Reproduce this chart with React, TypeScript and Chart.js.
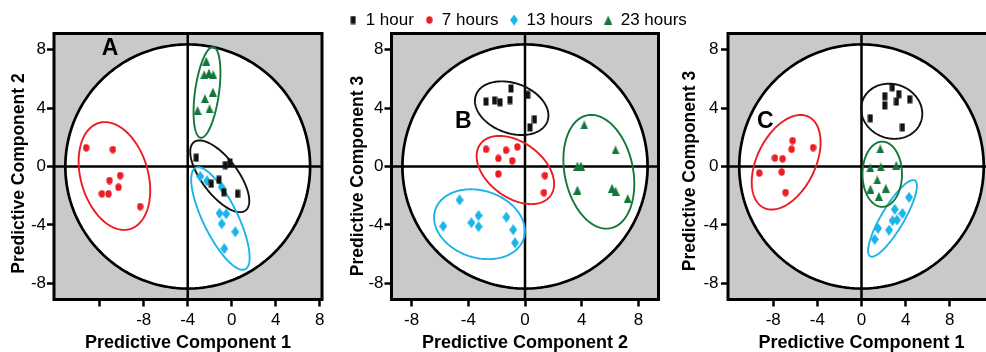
import React, { useEffect, useRef } from "react";
import { Chart, registerables } from "chart.js";
Chart.register(...registerables);

const FONT = "'Liberation Sans', Arial, Helvetica, sans-serif";

// ---------- series ----------
const seriesLabels = ["1 hour", "7 hours", "13 hours", "23 hours"];
const seriesColors = ["#111111", "#ed1c24", "#1ab4ea", "#14773a"];

type Pt = [number, number];

// Panel A  (Predictive Component 1 vs 2)
const a1h: Pt[] = [[-3.23, 0.6], [-0.59, 0.09], [-0.16, 0.27], [-1.16, -0.91], [-1.86, -1.18], [-0.71, -1.76], [0.53, -1.87]];
const a7h: Pt[] = [[-13.23, 1.28], [-10.8, 1.16], [-10.14, -0.62], [-11.11, -0.96], [-10.29, -1.42], [-11.8, -1.87], [-11.2, -1.87], [-8.32, -2.74]];
const a13h: Pt[] = [[-2.86, -0.68], [-2.25, -0.98], [-0.91, -1.42], [-1.11, -3.2], [-0.5, -3.24], [-0.91, -3.92], [0.32, -4.47], [-0.68, -5.62]];
const a23h: Pt[] = [[-2.32, 7.21], [-2.5, 6.28], [-2.07, 6.39], [-1.68, 6.28], [-1.71, 5.09], [-2.44, 4.64], [-3.11, 3.84], [-2.02, 3.95]];
// ellipses: [cx, cy, ux, uy, vx, vy] (centre + two conjugate semi-axes, data units)
const aEllipses: number[][] = [
  [-1.09, -0.67, 2.34, -2.34, 1.31, 0.74],
  [-10.66, -0.65, 1.41, -3.63, 2.93, 0.65],
  [-1.03, -3.56, 2.25, -3.47, 1.41, 0.52],
  [-2.25, 5.07, 0.57, 3.1, 1.08, -0.11],
];

// Panel B  (Predictive Component 2 vs 3)
const b1h: Pt[] = [[-2.75, 4.44], [-2.15, 4.52], [-1.76, 4.4], [-1.06, 4.55], [-0.99, 5.34], [0.19, 4.9], [0.67, 3.23], [0.35, 2.68]];
const b7h: Pt[] = [[-2.75, 1.18], [-1.88, 0.55], [-1.34, 1.11], [-0.54, 1.34], [-0.9, 0.39], [-1.88, -0.51], [1.41, -0.62], [1.34, -1.79]];
const b13h: Pt[] = [[-4.62, -2.29], [-5.77, -4.08], [-3.78, -3.85], [-3.28, -3.36], [-3.28, -4.11], [-1.31, -3.46], [-0.83, -4.33], [-0.71, -5.22]];
const b23h: Pt[] = [[4.18, 2.84], [6.39, 1.13], [3.7, 0.03], [3.95, 0.03], [3.7, -1.61], [6.14, -1.49], [6.39, -1.68], [7.25, -2.19]];
const bEllipses: number[][] = [
  [-0.94, 3.99, 2.52, -0.9, 0.61, 1.6],
  [-0.68, -0.24, 2.48, -1.76, 1.15, 1.53],
  [-3.21, -3.95, 3.12, -0.98, 0.73, 2.18],
  [5.21, -0.36, 0.83, -3.86, 2.36, 0.48],
];

// Panel C  (Predictive Component 1 vs 3)
const c1h: Pt[] = [[2.79, 5.42], [2.11, 4.81], [3.38, 4.95], [2.11, 4.18], [3.17, 4.44], [4.37, 4.6], [0.8, 3.3], [3.71, 2.68]];
const c7h: Pt[] = [[-6.24, 1.77], [-4.38, 1.29], [-6.33, 1.18], [-7.85, 0.58], [-7.15, 0.53], [-9.27, -0.45], [-7.23, -0.38], [-6.88, -1.78]];
const c13h: Pt[] = [[4.31, -2.11], [3.71, -3.21], [3.01, -2.93], [3.22, -3.66], [2.81, -3.71], [2.5, -4.35], [1.5, -4.23], [1.2, -4.99]];
const c23h: Pt[] = [[1.7, 1.21], [0.8, -0.09], [1.75, -0.03], [3.15, 0.08], [1.43, -0.92], [0.81, -1.54], [2.2, -1.49], [1.57, -2.04]];
const cEllipses: number[][] = [
  [2.74, 3.78, 2.64, -0.73, 0.84, 1.74],
  [-6.83, 0.29, 2.04, 3.11, 2.36, -0.89],
  [2.81, -3.55, 2.03, 2.59, 0.88, -0.4],
  [1.88, -0.53, 0, 2.23, 1.79, 0],
];

// ---------- axes ----------
const yTicks = [-8, -4, 0, 4, 8];
const yTickLabels = ["-8", "-4", "0", "4", "8"];
const xTicksA = [-12, -8, -4, 0, 4, 8];
const xTickLabelsA = ["", "-8", "-4", "0", "4", "8"];
const xTicksBC = [-8, -4, 0, 4, 8];
const xTickLabelsBC = ["-8", "-4", "0", "4", "8"];
const yRange = [-9.1, 9.1];
const xRangeA = [-16.15, 8.2];
const xRangeB = [-9.42, 9.42];
const xRangeC = [-12.1, 12.1];

// Hotelling circle: centre and radii (data units)
const circleA = [-4, 0, 11.12, 8.35];
const circleB = [0, 0, 8.65, 8.35];
const circleC = [0, 0, 11.08, 8.35];

const titleX = ["Predictive Component 1", "Predictive Component 2", "Predictive Component 1"];
const titleY = ["Predictive Component 2", "Predictive Component 3", "Predictive Component 3"];
const panelLetters = ["A", "B", "C"];
const letterPos: Pt[] = [[-11.05, 8.08], [-4.35, 3.07], [-8.71, 3.07]];

function makeMarker(kind: number): HTMLCanvasElement {
  const c = document.createElement("canvas");
  const sizes = [[6, 9], [7, 8], [8, 11], [8, 9]];
  const [w, h] = sizes[kind];
  c.width = w;
  c.height = h;
  const g = c.getContext("2d")!;
  g.fillStyle = seriesColors[kind];
  g.beginPath();
  if (kind === 0) g.rect(0.5, 0.5, w - 1, h - 1);
  else if (kind === 1) g.ellipse(w / 2, h / 2, w / 2 - 0.3, h / 2 - 0.3, 0, 0, Math.PI * 2);
  else if (kind === 2) {
    g.moveTo(w / 2, 0); g.lineTo(w, h / 2); g.lineTo(w / 2, h); g.lineTo(0, h / 2); g.closePath();
  } else {
    g.moveTo(w / 2, 0); g.lineTo(w, h); g.lineTo(0, h); g.closePath();
  }
  g.fill();
  return c;
}

type PanelCfg = {
  idx: number;
  series: Pt[][];
  ellipses: number[][];
  circle: number[];
  xTicks: number[];
  xLabels: string[];
  xRange: number[];
  left: number;
  width: number;
  yAxisWidth: number;
  rightAxisWidth: number;
  yTickPad: number;
  padTop: number;
  yTitleX: number;
  yTitleDy: number;
  legend: boolean;
};

function makeDecor(cfg: PanelCfg) {
  return {
    id: "panelDecor" + cfg.idx,
    beforeDatasetsDraw(chart: any) {
      const { ctx, chartArea: a, scales } = chart;
      const px = (v: number) => scales.x.getPixelForValue(v);
      const py = (v: number) => scales.y.getPixelForValue(v);
      const path = (e: number[]) => {
        const [cx, cy, ux, uy, vx, vy] = e;
        ctx.beginPath();
        for (let i = 0; i <= 200; i++) {
          const t = (i / 200) * Math.PI * 2;
          const X = px(cx + ux * Math.cos(t) + vx * Math.sin(t));
          const Y = py(cy + uy * Math.cos(t) + vy * Math.sin(t));
          if (i === 0) ctx.moveTo(X, Y); else ctx.lineTo(X, Y);
        }
        ctx.closePath();
      };
      ctx.save();
      ctx.fillStyle = "#c9c9c9";
      ctx.fillRect(a.left, a.top, a.right - a.left, a.bottom - a.top);
      const [ccx, ccy, rx, ry] = cfg.circle;
      path([ccx, ccy, rx, 0, 0, ry]);
      ctx.fillStyle = "#ffffff";
      ctx.fill();
      ctx.strokeStyle = "#000";
      ctx.lineWidth = 2.7;
      ctx.stroke();
      ctx.beginPath();
      ctx.moveTo(px(ccx), a.top);
      ctx.lineTo(px(ccx), a.bottom);
      ctx.moveTo(a.left, py(ccy));
      ctx.lineTo(a.right, py(ccy));
      ctx.lineWidth = 2.5;
      ctx.stroke();
      cfg.ellipses.forEach((e, i) => {
        path(e);
        ctx.strokeStyle = seriesColors[i];
        ctx.lineWidth = 1.9;
        ctx.stroke();
      });
      const [lx, ly] = letterPos[cfg.idx];
      ctx.fillStyle = "#000";
      ctx.font = `bold 23px ${FONT}`;
      ctx.textAlign = "center";
      ctx.textBaseline = "middle";
      ctx.fillText(panelLetters[cfg.idx], px(lx), py(ly));
      ctx.restore();
    },
    afterDatasetsDraw(chart: any) {
      const { ctx, chartArea: a } = chart;
      ctx.save();
      ctx.strokeStyle = "#000";
      ctx.lineWidth = 3;
      ctx.strokeRect(a.left, a.top, a.right - a.left, a.bottom - a.top);
      // vertical axis title
      ctx.translate(cfg.yTitleX, (a.top + a.bottom) / 2 + cfg.yTitleDy);
      ctx.rotate(-Math.PI / 2);
      ctx.fillStyle = "#000";
      ctx.font = `bold 17.5px ${FONT}`;
      ctx.textAlign = "center";
      ctx.textBaseline = "middle";
      ctx.fillText(titleY[cfg.idx], 0, 0);
      ctx.restore();
    },
  };
}

function Panel({ cfg }: { cfg: PanelCfg }) {
  const ref = useRef<HTMLCanvasElement | null>(null);
  useEffect(() => {
    if (!ref.current) return;
    const markers = [0, 1, 2, 3].map(makeMarker);
    const chart = new Chart(ref.current, {
      type: "scatter",
      data: {
        datasets: cfg.series.map((pts, i) => ({
          label: seriesLabels[i],
          data: pts.map(([x, y]) => ({ x, y })),
          pointStyle: markers[i] as any,
          pointRadius: 5,
          backgroundColor: seriesColors[i],
          borderColor: seriesColors[i],
          showLine: false,
        })),
      },
      options: {
        responsive: false,
        animation: false,
        devicePixelRatio: 1,
        events: [],
        layout: { padding: { left: 0, top: cfg.padTop, right: 0, bottom: 0 } },
        plugins: {
          tooltip: { enabled: false },
          legend: {
            display: cfg.legend,
            position: "top",
            maxHeight: 33.5,
            labels: {
              usePointStyle: true,
              boxWidth: 8,
              color: "#000",
              font: { size: 17, family: FONT },
              padding: 11.5,
            },
          },
        },
        scales: {
          x: {
            type: "linear",
            min: cfg.xRange[0],
            max: cfg.xRange[1],
            bounds: "data",
            afterBuildTicks: (s: any) => { s.ticks = cfg.xTicks.map((v) => ({ value: v })); },
            afterFit: (s: any) => { s.height = 52.5; },
            grid: { drawOnChartArea: false, drawTicks: true, tickLength: 7, tickColor: "#000", tickWidth: 2.5, color: "#000" },
            border: { display: false },
            ticks: {
              color: "#000",
              font: { size: 17, family: FONT },
              padding: 4,
              maxRotation: 0,
              autoSkip: false,
              callback: (v: any) => cfg.xLabels[cfg.xTicks.indexOf(Number(v))] ?? "",
            },
            title: {
              display: true,
              text: titleX[cfg.idx],
              color: "#000",
              font: { size: 18, weight: "bold", family: FONT, lineHeight: 1 },
              padding: { top: 0, bottom: 0 },
            },
          },
          y: {
            type: "linear",
            position: "left",
            min: yRange[0],
            max: yRange[1],
            bounds: "data",
            afterBuildTicks: (s: any) => { s.ticks = yTicks.map((v) => ({ value: v })); },
            afterFit: (s: any) => { s.width = cfg.yAxisWidth; },
            grid: { drawOnChartArea: false, drawTicks: true, tickLength: 7, tickColor: "#000", tickWidth: 2.5, color: "#000" },
            border: { display: false },
            ticks: {
              color: "#000",
              font: { size: 17, family: FONT },
              padding: cfg.yTickPad,
              autoSkip: false,
              callback: (v: any) => yTickLabels[yTicks.indexOf(Number(v))] ?? "",
            },
            title: { display: false },
          },
          yRight: {
            type: "linear",
            position: "right",
            min: 0,
            max: 1,
            afterFit: (s: any) => { s.width = cfg.rightAxisWidth; },
            grid: { display: false, drawTicks: false },
            border: { display: false },
            ticks: { display: false },
          },
        },
      } as any,
      plugins: [makeDecor(cfg)],
    });
    return () => chart.destroy();
  }, [cfg]);
  return (
    <canvas
      ref={ref}
      width={cfg.width}
      height={352}
      style={{ position: "absolute", left: cfg.left, top: 0, width: cfg.width, height: 352 }}
    />
  );
}

const panels: PanelCfg[] = [
  { idx: 0, series: [a1h, a7h, a13h, a23h], ellipses: aEllipses, circle: circleA, xTicks: xTicksA, xLabels: xTickLabelsA, xRange: xRangeA, left: 0, width: 330, yAxisWidth: 54, rightAxisWidth: 8, yTickPad: 1, padTop: 33.5, yTitleX: 19.5, yTitleDy: 7, legend: false },
  { idx: 1, series: [b1h, b7h, b13h, b23h], ellipses: bEllipses, circle: circleB, xTicks: xTicksBC, xLabels: xTickLabelsBC, xRange: xRangeB, left: 328, width: 380, yAxisWidth: 63.5, rightAxisWidth: 49.5, yTickPad: 1, padTop: 0, yTitleX: 30.5, yTitleDy: 9.5, legend: true },
  { idx: 2, series: [c1h, c7h, c13h, c23h], ellipses: cEllipses, circle: circleC, xTicks: xTicksBC, xLabels: xTickLabelsBC, xRange: xRangeC, left: 670, width: 336, yAxisWidth: 58, rightAxisWidth: 11, yTickPad: 2.5, padTop: 33.5, yTitleX: 20, yTitleDy: 4.5, legend: false },
];

export default function App() {
  return (
    <div style={{ position: "fixed", left: 0, top: 0, width: 986, height: 352, overflow: "hidden", background: "#fff" }}>
      {panels.map((p) => (
        <Panel key={p.idx} cfg={p} />
      ))}
    </div>
  );
}
